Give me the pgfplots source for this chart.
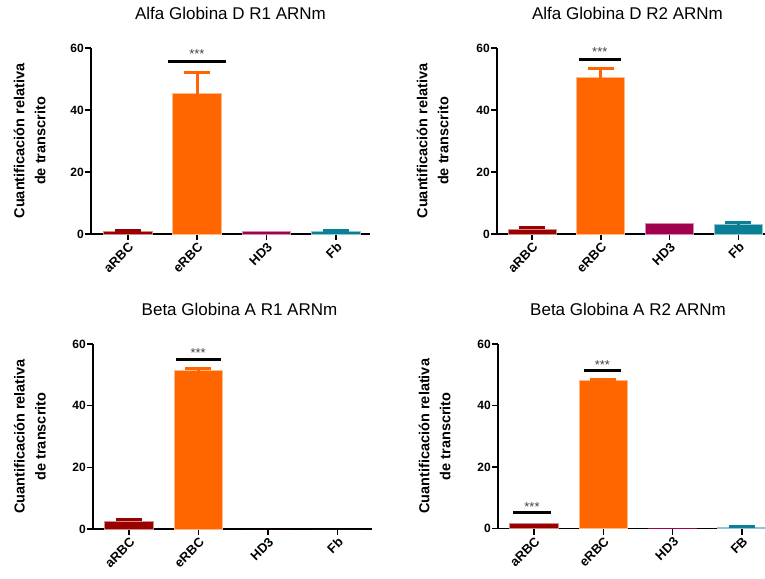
\documentclass[border=0pt]{standalone}
\usepackage{pgfplots}
\pgfplotsset{compat=1.18}
\usepackage{fontspec}
\setmainfont{Liberation Sans}
\definecolor{cA}{HTML}{990000}
\definecolor{cE}{HTML}{FF6600}
\definecolor{cH}{HTML}{A0004E}
\definecolor{cF}{HTML}{0B7F96}
\definecolor{star}{HTML}{444444}
\tikzset{
  sig/.style={line width=3pt, black},
  stars/.style={font=\fontsize{13}{14}\selectfont, text=star, inner sep=0pt},
}
\pgfplotsset{
  panel/.style={
    scale only axis, anchor=south west, clip=false,
    ymin=0, ymax=60,
    axis x line*=bottom, axis y line*=left,
    axis line style={line width=1.5pt, black},
    xtick={0,1,2,3},
    ytick={0,20,40,60},
    tick align=outside, major tick length=6pt,
    tick style={line width=1.5pt, black},
    /pgf/number format/assume math mode=true,
    yticklabel style={font=\fontsize{12}{14}\selectfont\bfseries, inner sep=1pt},
    xticklabel style={font=\fontsize{13}{15}\selectfont\bfseries, rotate=45, anchor=north east, inner sep=1pt},
    ylabel={Cuantificación relativa\\de transcrito},
    ylabel style={font=\fontsize{14.5}{21}\selectfont\bfseries, align=center, anchor=center},
    title style={font=\fontsize{17}{20}\selectfont, anchor=base},
  },
  barE/.style={ybar, bar width=0.7, bar shift=0pt, fill=#1, draw=#1!45!white, line width=0.8pt,
    error bars/.cd, y dir=plus, y explicit,
    error bar style={line width=3pt, #1},
    error mark options={rotate=90, mark size=13pt, line width=3pt, #1}},
  barN/.style={ybar, bar width=0.7, bar shift=0pt, fill=#1, draw=#1!45!white, line width=0.8pt},
  barZ/.style={ybar, bar width=0.7, bar shift=0pt, fill=#1, draw=none},
}
\begin{document}
\begin{tikzpicture}
\useasboundingbox (0,0) rectangle (765pt,-578pt);

% Panel 1
\begin{axis}[panel, at={(91pt,-234pt)}, width=279pt, height=186pt,
  xmin=-0.53, xmax=3.49,
  xticklabels={aRBC,eRBC,HD3,Fb},
  ylabel style={at={(axis description cs:-0.22,0.5)}},
  title={Alfa Globina D R1 ARNm},
  title style={at={(axis description cs:0.5,1)}, yshift=23pt}]
\addplot[barE=cA] coordinates {(0,0.7) +- (0,0.35)};
\addplot[barE=cE] coordinates {(1,45.3) +- (0,6.7)};
\addplot[barN=cH] coordinates {(2,1.0)};
\addplot[barE=cF] coordinates {(3,0.7) +- (0,0.35)};
\draw[sig] (axis cs:0.58,55.5) -- (axis cs:1.41,55.5);
\node[stars] at (axis cs:0.995,58.2) {***};
\end{axis}

% Panel 2
\begin{axis}[panel, at={(497pt,-234pt)}, width=275pt, height=186pt,
  xmin=-0.51, xmax=3.49,
  xticklabels={aRBC,eRBC,HD3,Fb},
  ylabel style={at={(axis description cs:-0.2345,0.5)}},
  title={Alfa Globina D R2 ARNm},
  title style={at={(axis description cs:0.5,1)}, yshift=23pt, xshift=-7pt}]
\addplot[barE=cA] coordinates {(0,1.6) +- (0,0.4)};
\addplot[barE=cE] coordinates {(1,50.4) +- (0,3.1)};
\addplot[barN=cH] coordinates {(2,3.55)};
\addplot[barE=cF] coordinates {(3,3.0) +- (0,0.75)};
\draw[sig] (axis cs:0.68,56.3) -- (axis cs:1.29,56.3);
\node[stars] at (axis cs:0.985,58.6) {***};
\end{axis}

% Panel 3
\begin{axis}[panel, at={(93pt,-529pt)}, width=279pt, height=185pt,
  xmin=-0.52, xmax=3.5,
  xticklabels={aRBC,eRBC,HD3,Fb},
  ylabel style={at={(axis description cs:-0.226,0.5)}},
  title={Beta Globina A R1 ARNm},
  title style={at={(axis description cs:0.5,1)}, yshift=22.5pt, xshift=7pt}]
\addplot[barE=cA] coordinates {(0,2.6) +- (0,0.55)};
\addplot[barE=cE] coordinates {(1,51.3) +- (0,0.6)};
\addplot[barZ=cH] coordinates {(2,0)};
\addplot[barZ=cF] coordinates {(3,0)};
\draw[sig] (axis cs:0.67,55.1) -- (axis cs:1.32,55.1);
\node[stars] at (axis cs:0.995,57.0) {***};
\end{axis}

% Panel 4
\begin{axis}[panel, at={(498pt,-528.5pt)}, width=278pt, height=184.5pt,
  xmin=-0.52, xmax=3.49,
  xticklabels={aRBC,eRBC,HD3,FB},
  ylabel style={at={(axis description cs:-0.228,0.5)}},
  title={Beta Globina A R2 ARNm},
  title style={at={(axis description cs:0.5,1)}, yshift=22.5pt, xshift=-9pt}]
\addplot[barN=cA] coordinates {(0,1.5)};
\addplot[barE=cE] coordinates {(1,48.2) +- (0,0.3)};
\addplot[barZ=cH] coordinates {(2,0.1)};
\addplot[barE=cF] coordinates {(3,0.3) +- (0,0.3)};
\draw[sig] (axis cs:0.72,51.3) -- (axis cs:1.25,51.3);
\node[stars] at (axis cs:0.985,53.1) {***};
\draw[sig] (axis cs:-0.30,5.2) -- (axis cs:0.245,5.2);
\node[stars] at (axis cs:-0.03,7.0) {***};
\end{axis}
\end{tikzpicture}
\end{document}
